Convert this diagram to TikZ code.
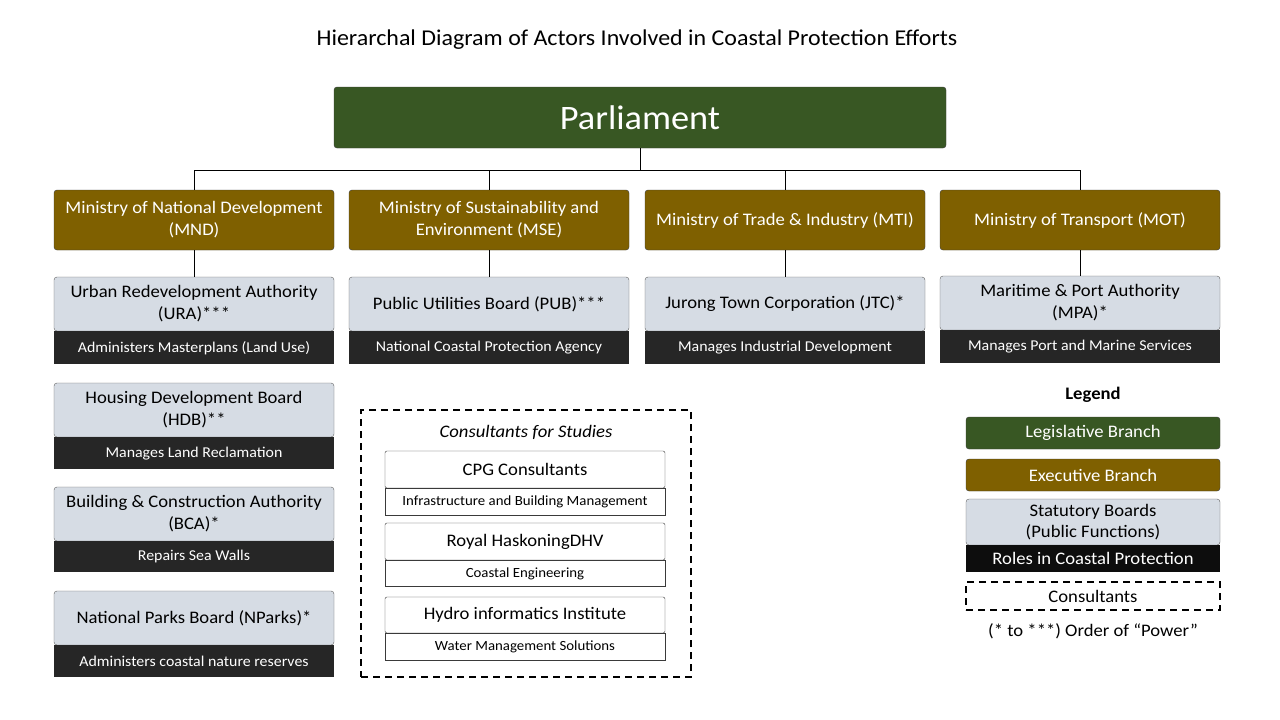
\documentclass[tikz,border=0pt]{standalone}
\usepackage{fontspec}
\setmainfont{Carlito}[FakeStretch=1.06]
\usetikzlibrary{positioning}

\definecolor{legisgreen}{HTML}{385723}
\definecolor{execbrown}{HTML}{7F6000}
\definecolor{boardgray}{HTML}{D6DCE4}
\definecolor{roledark}{HTML}{262626}
\definecolor{edgegray}{HTML}{3A3A3A}

\tikzset{
  legis/.style={draw=edgegray, fill=legisgreen, text=white, rounded corners=3pt, align=center},
  ministry/.style={draw=edgegray, fill=execbrown, text=white, rounded corners=3pt,
    minimum width=280pt, minimum height=60pt, align=center, font=\fontsize{17.6}{22}\selectfont},
  board/.style={draw=edgegray!80, fill=boardgray, rounded corners=3pt,
    minimum width=280pt, minimum height=54pt, align=center, font=\fontsize{17.6}{22}\selectfont},
  role/.style={fill=roledark, text=white, minimum width=280pt, minimum height=33pt,
    inner sep=0pt, font=\fontsize{15}{17}\selectfont},
  firm/.style={draw=edgegray, fill=white, rounded corners=2pt, minimum width=280pt,
    minimum height=37pt, font=\fontsize{17.6}{20}\selectfont},
  firmrole/.style={draw=edgegray, fill=white, minimum width=280pt, minimum height=27pt,
    inner sep=0pt, font=\fontsize{14}{16}\selectfont},
  dashbox/.style={draw=black, line width=1.8pt, dash pattern=on 7pt off 5pt},
  key/.style={minimum width=254pt, font=\fontsize{17.6}{21}\selectfont},
  link/.style={draw=black, line width=1pt}
}

\begin{document}
\begin{tikzpicture}[x=1pt, y=-1pt]
  \useasboundingbox[fill=white] (0,0) rectangle (1280,720);

  % title
  \node (title) at (637,40) {\fontsize{22.6}{26}\selectfont Hierarchal Diagram of Actors Involved in Coastal Protection Efforts};

  % top level
  \node[legis, minimum width=612pt, minimum height=61pt, font=\fontsize{34.3}{38}\selectfont] (parl) at (640,117.5) {Parliament};

  % ministries
  \node[ministry] (mnd) at (194,220) {Ministry of National Development\\(MND)};
  \node[ministry] (mse) at (489,220) {Ministry of Sustainability and\\Environment (MSE)};
  \node[ministry] (mti) at (785,220) {Ministry of Trade \& Industry (MTI)};
  \node[ministry] (mot) at (1080,220) {Ministry of Transport (MOT)};

  % statutory boards
  \node[board] (ura) at (194,304) {Urban Redevelopment Authority\\(URA)***};
  \node[role, below=0pt of ura] (urarole) {Administers Masterplans (Land Use)};
  \node[board] (pub) at (489,304) {Public Utilities Board (PUB)***};
  \node[role, below=0pt of pub] (pubrole) {National Coastal Protection Agency};
  \node[board] (jtc) at (785,304) {Jurong Town Corporation (JTC)*};
  \node[role, below=0pt of jtc] (jtcrole) {Manages Industrial Development};
  \node[board] (mpa) at (1080,303) {Maritime \& Port Authority\\(MPA)*};
  \node[role, below=0pt of mpa] (mparole) {Manages Port and Marine Services};

  \node[board] (hdb) at (194,410) {Housing Development Board\\(HDB)**};
  \node[role, minimum height=32pt, below=0pt of hdb] (hdbrole) {Manages Land Reclamation};
  \node[board] (bca) at (194,514) {Building \& Construction Authority\\(BCA)*};
  \node[role, minimum height=31pt, below=0pt of bca] (bcarole) {Repairs Sea Walls};
  \node[board] (nparks) at (194,618) {National Parks Board (NParks)*};
  \node[role, minimum height=32pt, below=0pt of nparks] (nparksrole) {Administers coastal nature reserves};

  % connectors
  \coordinate (bus) at (640,170);
  \draw[link] (parl) -- (bus);
  \draw[link] (bus) -| (mnd);
  \draw[link] (bus) -| (mse);
  \draw[link] (bus) -| (mti);
  \draw[link] (bus) -| (mot);
  \draw[link] (mnd) -- (ura);
  \draw[link] (mse) -- (pub);
  \draw[link] (mti) -- (jtc);
  \draw[link] (mot) -- (mpa);

  % consultants
  \node[dashbox, minimum width=330pt, minimum height=267pt] (consbox) at (526,543.5) {};
  \node[font=\fontsize{17.6}{20}\selectfont\itshape] (constitle) at (526,432) {Consultants for Studies};
  \node[firm] (cpg) at (525,469.5) {CPG Consultants};
  \node[firmrole, below=0pt of cpg] (cpgrole) {Infrastructure and Building Management};
  \node[firm] (rhdhv) at (525,541.5) {Royal HaskoningDHV};
  \node[firmrole, minimum height=26pt, below=0pt of rhdhv] (rhdhvrole) {Coastal Engineering};
  \node[firm, minimum height=36pt] (dhi) at (525,615) {Hydro informatics Institute};
  \node[firmrole, below=0pt of dhi] (dhirole) {Water Management Solutions};

  % legend
  \node[font=\fontsize{17.6}{20}\selectfont\bfseries] (legend) at (1093,395) {Legend};
  \node[legis, key, minimum height=32pt] (keylegis) at (1093,433) {Legislative Branch};
  \node[ministry, key, minimum height=32pt] (keyexec) at (1093,475) {Executive Branch};
  \node[board, key, minimum height=46pt, font=\fontsize{17.6}{21}\selectfont] (keyboard) at (1093,522) {Statutory Boards\\(Public Functions)};
  \node[role, key, fill=black!95, minimum height=27pt, below=0pt of keyboard] (keyrole) {Roles in Coastal Protection};
  \node[dashbox, key, line width=1.5pt, minimum height=28pt] (keycons) at (1093,596) {Consultants};
  \node[font=\fontsize{17.6}{20}\selectfont] (keypower) at (1093,631) {(* to ***) Order of ``Power''};
\end{tikzpicture}
\end{document}
